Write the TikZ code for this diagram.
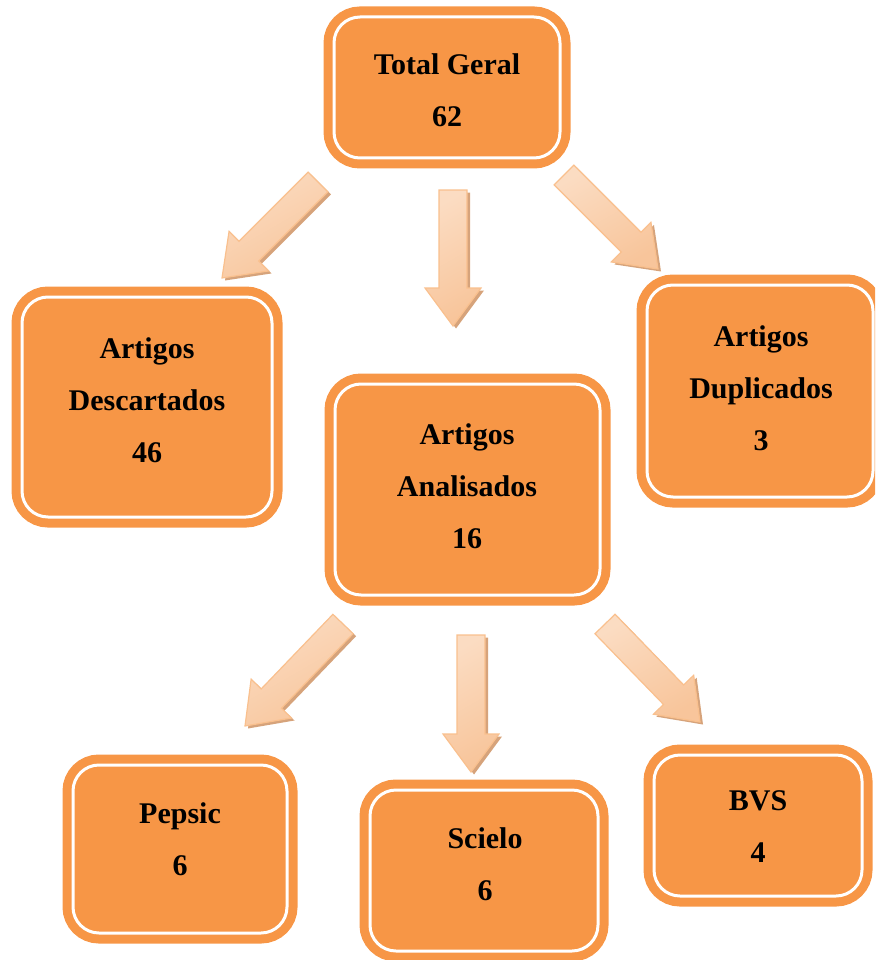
\documentclass[tikz,border=0pt]{standalone}
\usepackage{fontspec}
\setmainfont{Liberation Serif}
\usetikzlibrary{calc}
\definecolor{boxorange}{HTML}{F79646}
\definecolor{arrowedge}{HTML}{F9C08E}
\definecolor{arrowleft}{HTML}{FBDCC2}
\definecolor{arrowlight}{HTML}{FEEEE2}
\definecolor{arrowdark}{HTML}{F8C59B}
\definecolor{arrowshadow}{HTML}{D6A37B}
\newcommand\arrowoutline[2]{($(#1)!14pt!90:(#2)$) -- ($(#1-b)!14pt!90:(#2)$) -- ($(#1-b)!28pt!90:(#2)$) -- (#2) -- ($(#1-b)!28pt!-90:(#2)$) -- ($(#1-b)!14pt!-90:(#2)$) -- ($(#1)!14pt!-90:(#2)$) -- cycle}
\newcommand\blockarrow[2]{%
  \coordinate (#1-b) at ($(#2)!38pt!(#1)$);
  \begin{scope}[transform canvas={xshift=3pt,yshift=-2.5pt}]
    \path[arrowshade] \arrowoutline{#1}{#2};
  \end{scope}
  \path[arrowbody] \arrowoutline{#1}{#2};
}
\begin{document}
\begin{tikzpicture}[x=1pt,y=-1pt,
  obox/.style={rectangle, rounded corners=26pt, fill=boxorange, draw=white,
    line width=3pt, inner sep=0pt, preaction={draw=boxorange, line width=21pt}},
  lbl/.style={align=center, font=\bfseries\fontsize{30}{52}\selectfont, text=black, inner sep=0pt},
  arrowshade/.style={fill=arrowshadow},
  arrowbody/.style={draw=arrowedge, line width=1.2pt, line join=miter,
    left color=arrowleft, middle color=arrowlight, right color=arrowdark, shading angle=30}]
\useasboundingbox (0,0) rectangle (875,960);
\clip (0,0) rectangle (875,960);
% boxes
\node[obox, minimum width=226pt, minimum height=141pt] (tg) at (447,87.5) {};
\node[obox, minimum width=250pt, minimum height=220pt] (desc) at (147,407) {};
\node[obox, minimum width=265pt, minimum height=211pt] (anal) at (467.5,489.5) {};
\node[obox, minimum width=226pt, minimum height=212pt] (dup) at (760,391) {};
\node[obox, minimum width=214pt, minimum height=168pt] (pep) at (180,849) {};
\node[obox, minimum width=228pt, minimum height=161pt] (sci) at (484,870.5) {};
\node[obox, minimum width=208pt, minimum height=141pt] (bvs) at (758,825.5) {};
% labels
\node[lbl] (tg-t) at (447,90) {Total Geral\\62};
\node[lbl] (desc-t) at (147,400) {Artigos\\Descartados\\46};
\node[lbl] (anal-t) at (467,486) {Artigos\\Analisados\\16};
\node[lbl] (dup-t) at (761,388) {Artigos\\Duplicados\\3};
\node[lbl] (pep-t) at (180,839) {Pepsic\\6};
\node[lbl] (sci-t) at (485,864) {Scielo\\6};
\node[lbl] (bvs-t) at (758,827) {BVS\\4};
% arrow ends
\coordinate (a1t) at (318,182); \coordinate (a1h) at (222,278);
\coordinate (a2t) at (453,190); \coordinate (a2h) at (453,326);
\coordinate (a3t) at (564,175); \coordinate (a3h) at (658,269);
\coordinate (a4t) at (343,624); \coordinate (a4h) at (245,726);
\coordinate (a5t) at (471,635); \coordinate (a5h) at (471,772);
\coordinate (a6t) at (605,624); \coordinate (a6h) at (700,722);
\blockarrow{a1t}{a1h}
\blockarrow{a2t}{a2h}
\blockarrow{a3t}{a3h}
\blockarrow{a4t}{a4h}
\blockarrow{a5t}{a5h}
\blockarrow{a6t}{a6h}
\end{tikzpicture}
\end{document}
